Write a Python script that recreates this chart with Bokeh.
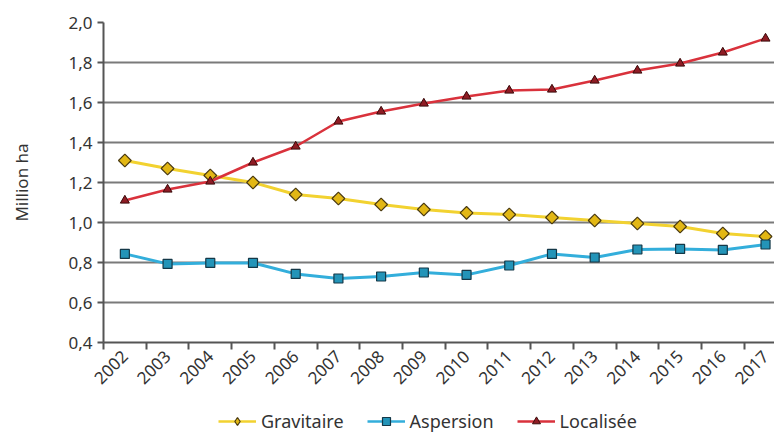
import math
from bokeh.plotting import figure
from bokeh.layouts import column
from bokeh.models import FixedTicker, CustomJSTickFormatter, Range1d, Legend, LegendItem
from bokeh.embed import file_html
from bokeh.resources import INLINE

years = list(range(2002, 2018))
year_labels = [str(y) for y in years]
gravitaire = [1.31, 1.27, 1.235, 1.20, 1.14, 1.12, 1.09, 1.065, 1.048, 1.04, 1.025, 1.01, 0.995, 0.98, 0.945, 0.93]
aspersion = [0.843, 0.793, 0.798, 0.798, 0.743, 0.72, 0.73, 0.75, 0.738, 0.785, 0.843, 0.825, 0.865, 0.868, 0.863, 0.89]
localisee = [1.11, 1.165, 1.205, 1.30, 1.38, 1.505, 1.555, 1.595, 1.63, 1.66, 1.665, 1.71, 1.76, 1.795, 1.85, 1.92]
y_ticks = [0.4, 0.6, 0.8, 1.0, 1.2, 1.4, 1.6, 1.8, 2.0]
y_title = "Million ha"
series_names = ["Gravitaire", "Aspersion", "Localisée"]

FONT = "Noto Sans"
TXT = "#333333"

styles = {
    "Gravitaire": dict(line=dict(line_color="#F2D230", line_width=3),
                       pts=dict(marker="square", angle=math.pi / 4, size=9,
                                fill_color="#E2B714", line_color="#4a3a10", line_width=1.2),
                       leg=dict(marker="diamond", size=13,
                                fill_color="#E2B714", line_color="#4a3a10", line_width=1.2)),
    "Aspersion": dict(line=dict(line_color="#33AEDB", line_width=3),
                      pts=dict(marker="square", size=9,
                               fill_color="#2394B8", line_color="#143848", line_width=1.2),
                      leg=dict(marker="square", size=8,
                               fill_color="#2394B8", line_color="#143848", line_width=1.2)),
    "Localisée": dict(line=dict(line_color="#D9323C", line_width=2.5),
                      pts=dict(marker="triangle", size=9,
                               fill_color="#8E1C24", line_color="#3a0a0a", line_width=1),
                      leg=dict(marker="triangle", size=8,
                               fill_color="#8E1C24", line_color="#3a0a0a", line_width=1)),
}
series_vals = [gravitaire, aspersion, localisee]

p = figure(frame_width=671, frame_height=320, output_backend="svg", toolbar_location=None,
           x_range=Range1d(2001.5, 2017.21), y_range=Range1d(0.4, 2.0),
           min_border_left=103, min_border_right=0, min_border_top=22, min_border_bottom=65)
p.outline_line_color = None
p.background_fill_color = "white"
p.border_fill_color = "white"

# grid
p.xgrid.grid_line_color = None
p.ygrid.grid_line_color = "#7a7a7a"
p.ygrid.grid_line_width = 2

# y axis
p.yaxis.ticker = FixedTicker(ticks=y_ticks)
p.yaxis.formatter = CustomJSTickFormatter(code="return tick.toFixed(1).replace('.', ',');")
p.yaxis.axis_label = y_title
p.yaxis.axis_label_text_font = FONT
p.yaxis.axis_label_text_font_style = "normal"
p.yaxis.axis_label_text_font_size = "17px"
p.yaxis.axis_label_text_color = TXT
p.yaxis.axis_label_standoff = 32
p.yaxis.major_label_text_font = FONT
p.yaxis.major_label_text_font_size = "17px"
p.yaxis.major_label_text_color = TXT
p.yaxis.major_label_standoff = 5
p.yaxis.axis_line_color = "#555555"
p.yaxis.axis_line_width = 2
p.yaxis.major_tick_line_color = "#555555"
p.yaxis.major_tick_line_width = 2
p.yaxis.major_tick_out = 6
p.yaxis.major_tick_in = 0
p.yaxis.minor_tick_line_color = None

# x axis
boundaries = [y - 0.5 for y in years] + [years[-1] + 0.5]
p.xaxis.ticker = FixedTicker(ticks=years, minor_ticks=boundaries)
p.xaxis.major_label_overrides = {y: lab for y, lab in zip(years, year_labels)}
p.xaxis.major_label_orientation = math.pi / 4
p.xaxis.major_label_text_font = FONT
p.xaxis.major_label_text_font_size = "17px"
p.xaxis.major_label_text_color = TXT
p.xaxis.major_label_standoff = 4
p.xaxis.axis_line_color = "#555555"
p.xaxis.axis_line_width = 2
p.xaxis.major_tick_line_color = None
p.xaxis.major_tick_out = 7
p.xaxis.major_tick_in = 0
p.xaxis.minor_tick_line_color = "#555555"
p.xaxis.minor_tick_line_width = 2
p.xaxis.minor_tick_out = 7
p.xaxis.minor_tick_in = 0

# series
for name, vals in zip(series_names, series_vals):
    p.line(years, vals, **styles[name]["line"])
    p.scatter(years, vals, **styles[name]["pts"])

# legend strip (separate small figure below the chart; its ranges hide the data,
# only the legend is visible)
q = figure(width=774, height=26, output_backend="svg", toolbar_location=None,
           x_range=Range1d(0, 1), y_range=Range1d(0, 1),
           x_axis_location=None, y_axis_location=None, min_border=0)
q.outline_line_color = None
q.grid.visible = False
items = []
for name, vals in zip(series_names, series_vals):
    lstyle = dict(styles[name]["line"])
    lstyle["line_width"] = 2.5
    r1 = q.line(years, vals, **lstyle)
    r2 = q.scatter(years, vals, **styles[name]["leg"])
    items.append(LegendItem(label=name, renderers=[r1, r2]))
legend = Legend(items=items, orientation="horizontal", location=(115, 0))
legend.border_line_color = None
legend.background_fill_alpha = 0
legend.label_text_font = FONT
legend.label_text_font_size = "18px"
legend.label_text_color = TXT
legend.label_height = 20
legend.glyph_height = 20
legend.glyph_width = 38
legend.label_standoff = 5
legend.spacing = 23
legend.padding = 0
legend.margin = 0
q.add_layout(legend, "center")

open("out.html", "w").write(file_html(column(p, q, spacing=0), INLINE))
